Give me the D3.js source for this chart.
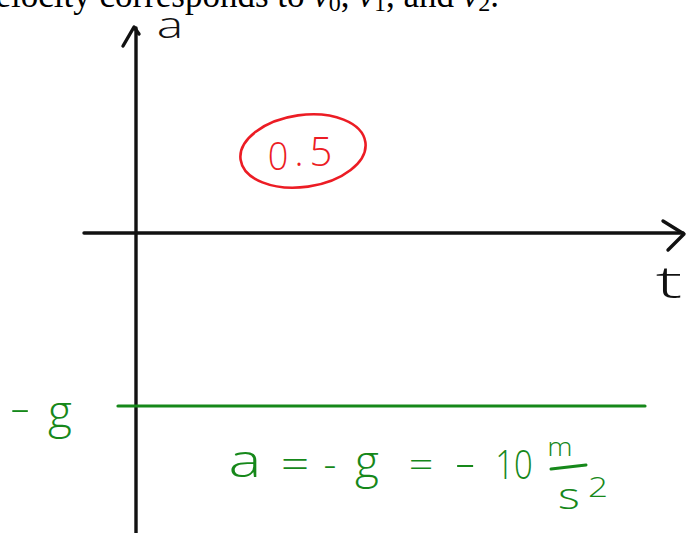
<!DOCTYPE html>
<html>
<head>
<meta charset="utf-8">
<script src="https://cdn.jsdelivr.net/npm/d3@7"></script>
<style>
  html, body { margin: 0; padding: 0; background: #fff; }
  svg { display: block; }
</style>
</head>
<body>
<svg id="chart" width="694" height="533"></svg>
<script>
// Acceleration vs time for a body in free fall
const gravity = 10;                 // m/s^2
const accelValues = [-gravity];     // constant acceleration a = -g
const timeSpan = [0, 10];           // t range shown on the axis
const accelSpan = [-10, 0];
const score = "0.5";

const ink = "#111";
const green = "#16881a";
const red = "#ec1c24";
const hand = "'Open Sans', 'DejaVu Sans', sans-serif";

const svg = d3.select("#chart");

const x = d3.scaleLinear().domain(timeSpan).range([136, 648]);
const y = d3.scaleLinear().domain(accelSpan).range([406, 233]);

// Running sentence of the surrounding text
const sentence = svg.append("text")
  .attr("x", 499).attr("y", 7)
  .attr("text-anchor", "end")
  .attr("font-family", "'Liberation Serif', 'DejaVu Serif', serif")
  .attr("font-size", 35)
  .attr("fill", "#000");
sentence.append("tspan").text("velocity corresponds to ");
[0, 1, 2].forEach((k, i) => {
  sentence.append("tspan").attr("font-style", "italic").text("v");
  sentence.append("tspan").attr("font-size", 24).attr("dy", 4).text(k);
  sentence.append("tspan").attr("dy", -4).text(i === 0 ? ", " : i === 1 ? ", and " : ".");
});

// Axes
const axes = svg.append("g")
  .attr("stroke", ink).attr("stroke-width", 3.4)
  .attr("stroke-linecap", "round").attr("stroke-linejoin", "round")
  .attr("fill", "none");

axes.append("line")
  .attr("x1", x(0)).attr("x2", x(0))
  .attr("y1", 28).attr("y2", 540);
axes.append("path")
  .attr("d", `M${x(0) - 13},${46} L${x(0) - 2},${27} L${x(0) + 3},${34}`);

axes.append("line")
  .attr("x1", 84).attr("x2", 683)
  .attr("y1", y(0)).attr("y2", y(0));
axes.append("path")
  .attr("d", `M663,${y(0) - 12} L684,${y(0) + 1} L668,${y(0) + 17}`);

// Axis names
svg.append("text")
  .attr("x", 170).attr("y", 38)
  .attr("text-anchor", "middle")
  .attr("transform", "translate(170,38) scale(1.35,1) translate(-170,-38)")
  .attr("font-family", hand).attr("font-size", 37).attr("font-weight", 300)
  .attr("fill", ink).text("a");
svg.append("text")
  .attr("x", 669).attr("y", 298)
  .attr("text-anchor", "middle")
  .attr("transform", "translate(669,298) scale(1.8,1) translate(-669,-298)")
  .attr("font-family", hand).attr("font-size", 44).attr("font-weight", 300)
  .attr("fill", ink).text("t");

// Constant acceleration line
svg.append("g").selectAll("line")
  .data(accelValues)
  .join("line")
  .attr("x1", x(0) - 18).attr("x2", x(timeSpan[1]) - 3)
  .attr("y1", d => y(d)).attr("y2", d => y(d))
  .attr("stroke", green).attr("stroke-width", 3.2)
  .attr("stroke-linecap", "round");

// Handwritten tokens: [text, centre x, baseline y, size, horizontal stretch]
function tokens(g, list, color) {
  g.selectAll("text")
    .data(list)
    .join("text")
    .attr("x", d => d[1]).attr("y", d => d[2])
    .attr("text-anchor", "middle")
    .attr("transform", d => `translate(${d[1]},${d[2]}) scale(${d[4]},1) translate(${-d[1]},${-d[2]})`)
    .attr("font-family", hand).attr("font-weight", 300)
    .attr("font-size", d => d[3])
    .attr("fill", color)
    .text(d => d[0]);
}

// "-g" label on the a axis
const gy = y(accelValues[0]);
tokens(svg.append("g"), [
  ["-", 20, gy + 16, 40, 1.6],
  ["g", 60, gy + 22, 46, 1.0]
], green);

// Equation a = -g = -10 m/s^2
const eq = svg.append("g");
tokens(eq, [
  ["a", 245, 477, 46, 1.35],
  ["=", 295, 478, 40, 1.25],
  ["-", 330, 478, 40, 1.0],
  ["g", 367, 478, 46, 1.0],
  ["=", 421, 478, 36, 1.2],
  ["-", 465, 478, 44, 1.5],
  [String(gravity), 514, 479, 41, 0.8],
  ["m", 560, 456, 26, 1.1],
  ["s", 569, 509, 36, 1.3],
  ["2", 598, 497, 27, 1.3]
], green);
eq.append("line")
  .attr("x1", 551).attr("x2", 586).attr("y1", 469).attr("y2", 465)
  .attr("stroke", green).attr("stroke-width", 3).attr("stroke-linecap", "round");

// Circled score
const mark = svg.append("g").attr("transform", "translate(303,151) rotate(-8)");
mark.append("ellipse")
  .attr("rx", 63).attr("ry", 36)
  .attr("fill", "none").attr("stroke", red).attr("stroke-width", 2.6);
const parts = score.split(".");
tokens(svg.append("g"), [
  [parts[0], 278, 170, 38, 0.95],
  [".", 299, 166, 38, 1.0],
  [parts[1], 321, 166, 40, 1.0]
], red);
</script>
</body>
</html>
